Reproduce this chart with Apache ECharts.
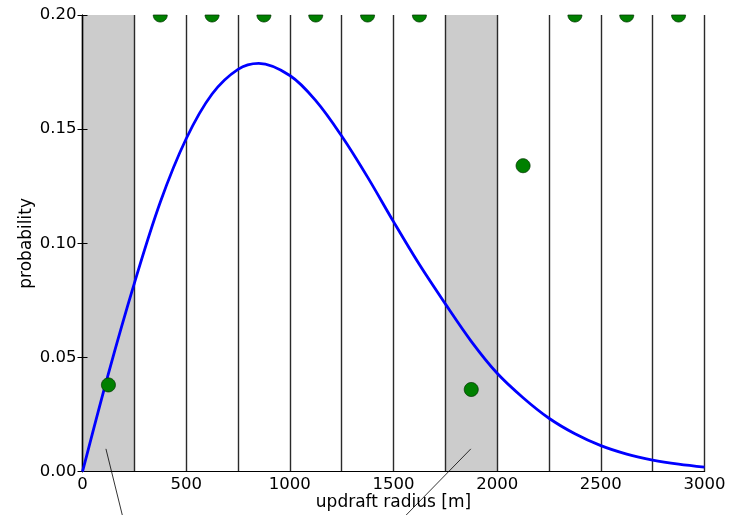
<!DOCTYPE html>
<html>
<head>
<meta charset="utf-8">
<script src="https://cdn.jsdelivr.net/npm/echarts@6/dist/echarts.min.js"></script>
<style>html,body{margin:0;padding:0;background:#fff}#c{width:738px;height:515px}</style>
</head>
<body>
<div id="c"></div>
<script>
// ---- data ----
const curveX = [0,125,250,375,500,625,750,850,1000,1125,1250,1375,1500,1625,1750,1875,2000,2125,2250,2375,2500,2625,2750,2875,3000];
const curveY = [0,0.043,0.0825,0.118,0.1458,0.1654,0.1762,0.1788,0.1735,0.1625,0.147,0.129,0.1095,0.0907,0.0735,0.0571,0.0431,0.0324,0.0234,0.0166,0.0114,0.0077,0.0051,0.0033,0.0020];
const binCenters = [125,375,625,875,1125,1375,1625,1875,2125,2375,2625,2875];
const observed = [0.038,0.20,0.20,0.20,0.20,0.20,0.20,0.036,0.134,0.20,0.20,0.20];
const shadedBins = [[0,250],[1750,2000]];
const xTicks = [0,500,1000,1500,2000,2500,3000];
const yTicks = [0,0.05,0.10,0.15,0.20];
const annotations = [[[113,0.01],[192,-0.019]],[[1873,0.01],[1561,-0.019]]];

const chart = echarts.init(document.getElementById('c'), null, {renderer:'canvas'});
const font = 'DejaVu Sans';
const option = {
  animation:false,
  backgroundColor:'#fff',
  textStyle:{fontFamily:font},
  grid:{left:82.5,right:33.5,top:15,bottom:43.3,containLabel:false,outerBoundsMode:'none'},
  xAxis:[{
    type:'value',min:0,max:3000,interval:250,position:'bottom',z:3,
    name:'updraft radius [m]',nameLocation:'middle',nameGap:22,nameMoveOverlap:false,
    nameTextStyle:{fontFamily:font,fontSize:17,color:'#000'},
    axisLine:{show:true,lineStyle:{color:'#000',width:1.2}},
    axisTick:{show:false},
    axisLabel:{fontFamily:font,fontSize:16.5,color:'#000',margin:5,
      formatter:v=>xTicks.indexOf(v)>=0?String(v):''},
    splitLine:{show:true,lineStyle:{color:'#2a2a2a',width:1.4}}
  },{
    type:'value',min:0,max:3000,interval:250,position:'top',z:3,
    axisLine:{show:true,lineStyle:{color:'#000',width:1.2}},
    axisTick:{show:false},axisLabel:{show:false},splitLine:{show:false}
  }],
  yAxis:[{
    type:'value',min:0,max:0.2,interval:0.05,position:'left',z:3,
    name:'probability',nameLocation:'middle',nameGap:47,nameRotate:90,nameMoveOverlap:false,
    nameTextStyle:{fontFamily:font,fontSize:17,color:'#000'},
    axisLine:{show:true,lineStyle:{color:'#000',width:1.2}},
    axisTick:{show:true,inside:true,length:5,lineStyle:{color:'#000'}},
    axisLabel:{fontFamily:font,fontSize:16.5,color:'#000',margin:6,
      formatter:v=>v.toFixed(2)},
    splitLine:{show:false}
  },{
    type:'value',min:0,max:0.2,interval:0.05,position:'right',z:3,
    axisLine:{show:true,lineStyle:{color:'#000',width:1.2}},
    axisTick:{show:true,inside:true,length:5,lineStyle:{color:'#000'}},
    axisLabel:{show:false},splitLine:{show:false}
  }],
  series:[
    {
      type:'custom',z:1,xAxisIndex:0,yAxisIndex:0,
      data:shadedBins.map(b=>[b[0],b[1]]),
      renderItem:(params,api)=>{
        const p0 = api.coord([api.value(0),0.2]);
        const p1 = api.coord([api.value(1),0]);
        return {type:'rect',shape:{x:p0[0],y:p0[1],width:p1[0]-p0[0],height:p1[1]-p0[1]},
          style:{fill:'#cccccc'}};
      }
    },
    {
      type:'line',z:5,xAxisIndex:0,yAxisIndex:0,
      data:curveX.map((x,i)=>[x,curveY[i]]),
      smooth:0.35,showSymbol:false,symbol:'none',
      lineStyle:{color:'#0000ff',width:2.8}
    },
    {
      type:'custom',z:6,xAxisIndex:0,yAxisIndex:0,
      data:binCenters.map((x,i)=>[x,observed[i]]),
      encode:{x:0,y:1},
      renderItem:(params,api)=>{
        const p = api.coord([api.value(0),api.value(1)]);
        const cs = params.coordSys;
        const top = cs.y, bottom = cs.y + cs.height;
        const r = 7, pts = [];
        for (let k = 0; k < 64; k++) {
          const a = k / 64 * Math.PI * 2;
          const px = p[0] + r * Math.cos(a);
          const py = Math.min(bottom, Math.max(top, p[1] + r * Math.sin(a)));
          pts.push([px, py]);
        }
        return {type:'polygon',shape:{points:pts},
          style:{fill:'#008000',stroke:'#003300',lineWidth:0.8}};
      }
    }
  ]
};
chart.setOption(option);
const lines = annotations.map(a=>{
  const s = chart.convertToPixel({xAxisIndex:0,yAxisIndex:0},a[0]);
  const e = chart.convertToPixel({xAxisIndex:0,yAxisIndex:0},a[1]);
  return {type:'line',z:100,shape:{x1:s[0],y1:s[1],x2:e[0],y2:e[1]},style:{stroke:'#000',lineWidth:0.8}};
});
chart.setOption({graphic:lines});
</script>
</body>
</html>
